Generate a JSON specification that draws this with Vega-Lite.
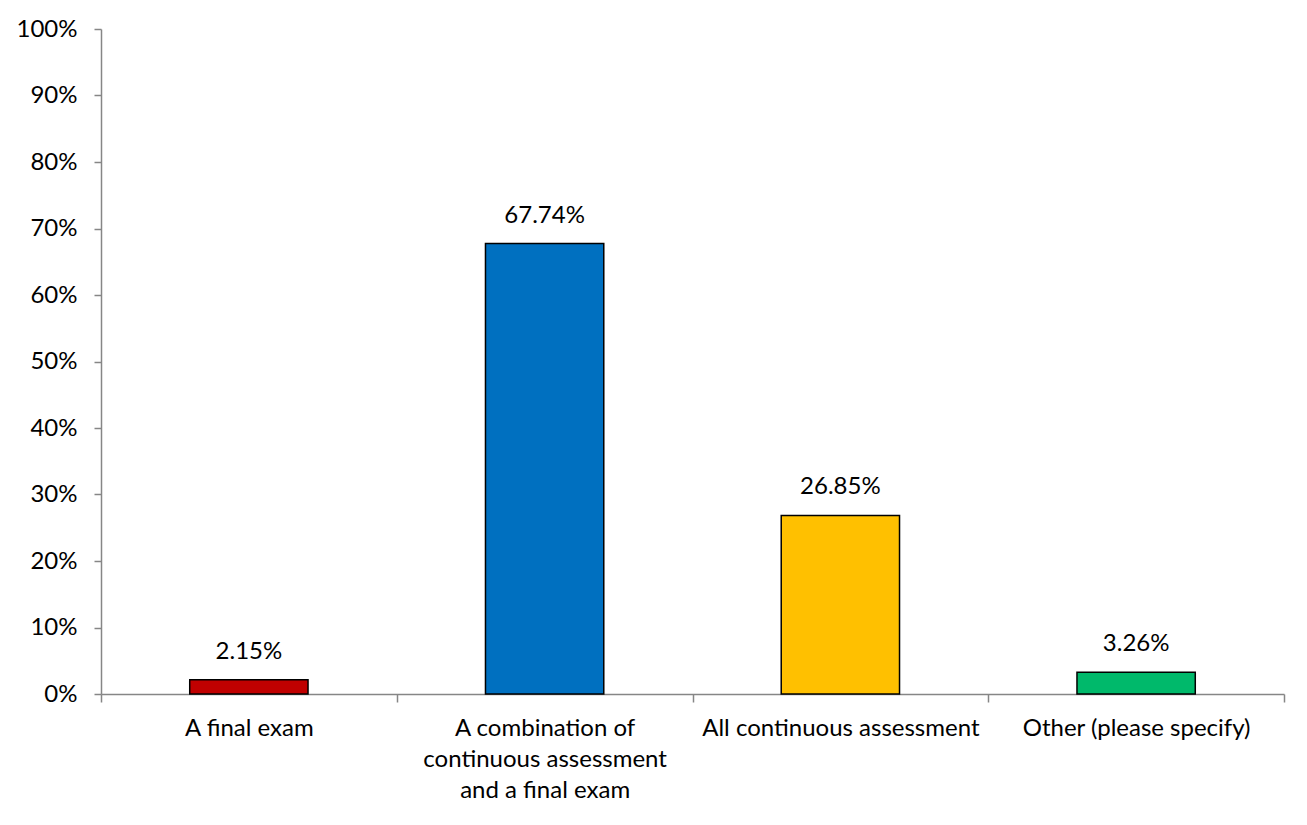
{
  "$schema": "https://vega.github.io/schema/vega-lite/v6.json",
  "autosize": {"type": "none"},
  "padding": {"left": 101, "top": 29, "right": 23, "bottom": 131},
  "width": 1183,
  "height": 665,
  "background": "white",
  "config": {"view": {"stroke": null}, "font": "Lato"},
  "data": {"values": [
    {"category": "A final exam", "value": 0.0215, "color": "#C00000"},
    {"category": "A combination of continuous assessment and a final exam", "value": 0.6774, "color": "#0070C0"},
    {"category": "All continuous assessment", "value": 0.2685, "color": "#FFC000"},
    {"category": "Other (please specify)", "value": 0.0326, "color": "#00B96B"}
  ]},
  "encoding": {
    "x": {"field": "category", "type": "nominal", "sort": null,
      "scale": {"paddingInner": 0, "paddingOuter": 0},
      "axis": {"title": null, "labelAngle": 0, "domainColor": "#868686", "tickColor": "#868686",
        "domainWidth": 1.5, "tickWidth": 1.5, "tickSize": 8, "tickBand": "extent",
        "labelFont": "Lato", "labelFontSize": 24, "labelColor": "#000000", "labelPadding": 26,
        "labelLineHeight": 31, "labelBaseline": "middle", "labelLimit": 0,
        "labelExpr": "datum.value == 'A combination of continuous assessment and a final exam' ? ['A combination of', 'continuous assessment', 'and a final exam'] : datum.label"}},
    "y": {"field": "value", "type": "quantitative",
      "scale": {"domain": [0, 1], "nice": false},
      "axis": {"title": null, "format": ".0%", "values": [0, 0.1, 0.2, 0.3, 0.4, 0.5, 0.6, 0.7, 0.8, 0.9, 1.0],
        "grid": false, "domainColor": "#868686", "tickColor": "#868686", "domainWidth": 1.5, "tickWidth": 1.5,
        "tickSize": 7, "labelFont": "Lato", "labelFontSize": 24, "labelColor": "#000000", "labelPadding": 17}}
  },
  "layer": [
    {"mark": {"type": "bar", "width": {"band": 0.4}, "stroke": "#000000", "strokeWidth": 1.5},
      "encoding": {"color": {"field": "color", "type": "nominal", "scale": null}}},
    {"mark": {"type": "text", "baseline": "middle", "dy": -28, "fontSize": 24, "font": "Lato", "color": "#000000"},
      "encoding": {"text": {"field": "value", "type": "quantitative", "format": ".2%"}}}
  ]
}
